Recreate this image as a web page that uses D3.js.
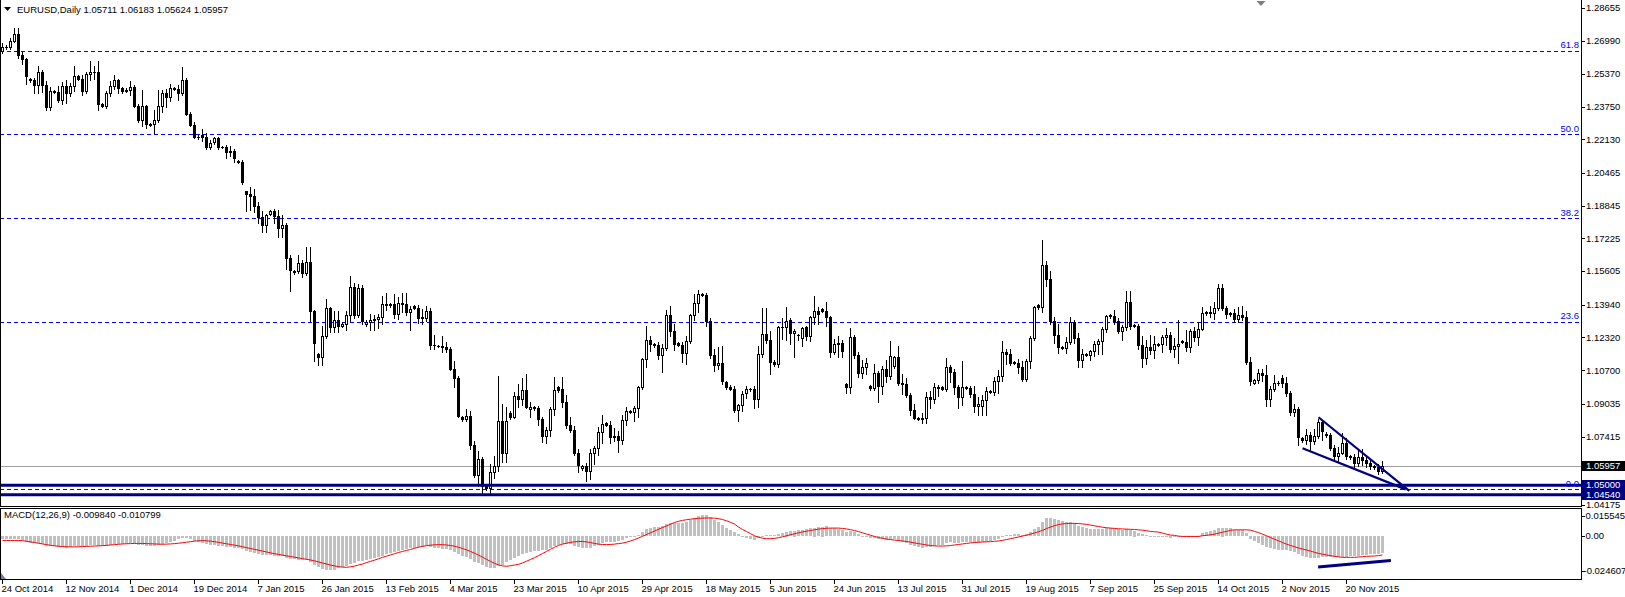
<!DOCTYPE html>
<html><head><meta charset="utf-8">
<script src="https://cdn.jsdelivr.net/npm/d3@7"></script>
<style>
body{margin:0;background:#fff;}
svg{display:block;}
text{font-family:"Liberation Sans",Arial,sans-serif;font-size:9.5px;}
</style>
</head><body>
<svg id="chart" width="1625" height="597"></svg>
<script>
const symbolName = "EURUSD,Daily";
const firstDate = "2014-10-24";
const dateTicks = ["24 Oct 2014","12 Nov 2014","1 Dec 2014","19 Dec 2014","7 Jan 2015","26 Jan 2015","13 Feb 2015","4 Mar 2015","23 Mar 2015","10 Apr 2015","29 Apr 2015","18 May 2015","5 Jun 2015","24 Jun 2015","13 Jul 2015","31 Jul 2015","19 Aug 2015","7 Sep 2015","25 Sep 2015","14 Oct 2015","2 Nov 2015","20 Nov 2015"];
const priceTicks = [1.28655,1.26990,1.25370,1.23750,1.22130,1.20465,1.18845,1.17225,1.15605,1.13940,1.12320,1.10700,1.09035,1.07415,1.04175];
const macdTicks = [0.015545,0.00,-0.024607];

const openP = [
1.2650,1.2668,1.2672,1.2700,1.2735,1.2630,1.2610,1.2510,1.2508,1.2484,
1.2545,1.2480,1.2375,1.2450,1.2445,1.2410,1.2475,1.2440,1.2475,1.2525,
1.2512,1.2450,1.2535,1.2545,1.2548,1.2390,1.2380,1.2440,1.2475,1.2505,
1.2465,1.2450,1.2455,1.2470,1.2380,1.2310,1.2380,1.2285,1.2287,1.2310,
1.2380,1.2440,1.2420,1.2465,1.2462,1.2440,1.2505,1.2340,1.2285,1.2225,
1.2235,1.2225,1.2175,1.2198,1.2220,1.2175,1.2173,1.2150,1.2155,1.2105,
1.2102,1.1955,1.1940,1.1932,1.1885,1.1830,1.1790,1.1845,1.1860,1.1835,
1.1775,1.1790,1.1625,1.1555,1.1562,1.1600,1.1550,1.1605,1.1365,1.1150,
1.1135,1.1240,1.1380,1.1285,1.1320,1.1290,1.1300,1.1345,1.1480,1.1345,
1.1475,1.1300,1.1310,1.1320,1.1325,1.1335,1.1400,1.1395,1.1398,1.1350,
1.1405,1.1400,1.1360,1.1390,1.1380,1.1332,1.1328,1.1365,1.1195,1.1190,
1.1188,1.1185,1.1175,1.1075,1.1030,1.0840,1.0830,1.0845,1.0700,1.0550,
1.0630,1.0495,1.0488,1.0565,1.0595,1.0820,1.0660,1.0860,1.0840,1.0940,
1.0925,1.0970,1.0880,1.0888,1.0882,1.0830,1.0745,1.0775,1.0880,1.0985,
1.0975,1.0915,1.0800,1.0775,1.0660,1.0586,1.0595,1.0570,1.0660,1.0685,
1.0765,1.0810,1.0800,1.0740,1.0742,1.0725,1.0825,1.0868,1.0865,1.0885,
1.0985,1.1125,1.1220,1.1198,1.1195,1.1145,1.1180,1.1345,1.1265,1.1205,
1.1195,1.1155,1.1215,1.1345,1.1405,1.1445,1.1442,1.1315,1.1145,1.1095,
1.1105,1.1010,1.0985,1.0975,1.0875,1.0900,1.0955,1.0975,1.0977,1.0925,
1.1150,1.1250,1.1220,1.1110,1.1100,1.1285,1.1285,1.1320,1.1255,1.1245,
1.1230,1.1285,1.1240,1.1335,1.1365,1.1375,1.1365,1.1335,1.1160,1.1200,
1.1205,1.1000,1.0987,1.1235,1.1145,1.1055,1.1085,1.0990,1.0980,1.1055,
1.0990,1.1075,1.1040,1.1090,1.1135,1.1005,1.1000,1.0945,1.0875,1.0835,
1.0828,1.0832,1.0935,1.0925,1.0985,1.0985,1.0978,1.1085,1.1060,1.0985,
1.0935,1.0985,1.0982,1.0950,1.0895,1.0895,1.0920,1.0965,1.0962,1.1015,
1.1040,1.1160,1.1150,1.1110,1.1105,1.1085,1.1025,1.1115,1.1230,1.1392,
1.1385,1.1590,1.1520,1.1315,1.1245,1.1185,1.1180,1.1210,1.1310,1.1230,
1.1120,1.1150,1.1145,1.1165,1.1200,1.1215,1.1275,1.1345,1.1338,1.1315,
1.1265,1.1285,1.1410,1.1295,1.1290,1.1195,1.1130,1.1185,1.1170,1.1195,
1.1200,1.1235,1.1245,1.1175,1.1190,1.1215,1.1210,1.1185,1.1265,1.1235,
1.1275,1.1355,1.1357,1.1352,1.1380,1.1475,1.1380,1.1350,1.1352,1.1325,
1.1345,1.1335,1.1110,1.1005,1.1020,1.1055,1.1045,1.0925,1.0975,1.1005,
1.1030,1.1005,1.0955,1.0865,1.0880,1.0735,1.0722,1.0750,1.0720,1.0745,
1.0815,1.0755,1.0748,1.0685,1.0645,1.0660,1.0710,1.0645,1.0638,1.0610,
1.0640,1.0625,1.0610,1.0595,1.0590,1.05711];
const highP = [
1.2690,1.2678,1.2713,1.2762,1.2766,1.2645,1.2615,1.2518,1.2515,1.2575,
1.2557,1.2500,1.2470,1.2458,1.2475,1.2495,1.2505,1.2490,1.2578,1.2530,
1.2532,1.2545,1.2600,1.2575,1.2600,1.2395,1.2450,1.2500,1.2530,1.2510,
1.2470,1.2465,1.2500,1.2480,1.2390,1.2455,1.2385,1.2292,1.2360,1.2455,
1.2455,1.2460,1.2485,1.2470,1.2480,1.2570,1.2515,1.2350,1.2300,1.2232,
1.2262,1.2245,1.2210,1.2225,1.2225,1.2180,1.2185,1.2180,1.2165,1.2110,
1.2110,1.1958,1.1975,1.1965,1.1905,1.1860,1.1845,1.1865,1.1870,1.1865,
1.1840,1.1800,1.1640,1.1565,1.1640,1.1615,1.1680,1.1680,1.1370,1.1155,
1.1290,1.1420,1.1385,1.1365,1.1365,1.1310,1.1365,1.1535,1.1500,1.1495,
1.1490,1.1318,1.1350,1.1345,1.1350,1.1435,1.1450,1.1405,1.1445,1.1430,
1.1450,1.1450,1.1390,1.1395,1.1395,1.1375,1.1390,1.1380,1.1245,1.1197,
1.1238,1.1210,1.1185,1.1115,1.1040,1.0845,1.0880,1.0870,1.0720,1.0670,
1.0640,1.0500,1.0605,1.0645,1.1043,1.0905,1.0890,1.0870,1.0960,1.1000,
1.1030,1.1052,1.0915,1.0895,1.0895,1.0840,1.0790,1.0890,1.1035,1.0990,
1.1035,1.0945,1.0840,1.0795,1.0680,1.0600,1.0610,1.0680,1.0695,1.0790,
1.0850,1.0815,1.0820,1.0785,1.0770,1.0850,1.0890,1.0875,1.0895,1.0990,
1.1130,1.1290,1.1240,1.1205,1.1210,1.1200,1.1370,1.1390,1.1300,1.1210,
1.1210,1.1240,1.1350,1.1445,1.1468,1.1450,1.1450,1.1330,1.1175,1.1185,
1.1190,1.1015,1.0995,1.0990,1.0905,1.0965,1.0990,1.0982,1.0990,1.1190,
1.1380,1.1380,1.1265,1.1118,1.1290,1.1330,1.1385,1.1330,1.1275,1.1250,
1.1285,1.1290,1.1340,1.1435,1.1385,1.1380,1.1410,1.1340,1.1225,1.1240,
1.1220,1.1005,1.1278,1.1245,1.1160,1.1120,1.1130,1.0995,1.1100,1.1065,
1.1090,1.1120,1.1215,1.1140,1.1190,1.1050,1.1030,1.0955,1.0905,1.0840,
1.0860,1.0960,1.0965,1.1005,1.0995,1.0990,1.1130,1.1095,1.1075,1.0995,
1.1115,1.0990,1.0990,1.0990,1.0935,1.0945,1.0985,1.0970,1.1035,1.1070,
1.1215,1.1175,1.1175,1.1115,1.1125,1.1115,1.1125,1.1240,1.1390,1.1398,
1.1715,1.1610,1.1560,1.1335,1.1300,1.1190,1.1235,1.1333,1.1320,1.1255,
1.1175,1.1155,1.1170,1.1215,1.1225,1.1285,1.1345,1.1350,1.1370,1.1330,
1.1295,1.1460,1.1460,1.1300,1.1300,1.1240,1.1220,1.1245,1.1240,1.1205,
1.1245,1.1280,1.1260,1.1230,1.1318,1.1220,1.1270,1.1275,1.1285,1.1310,
1.1385,1.1362,1.1390,1.1410,1.1495,1.1495,1.1390,1.1358,1.1375,1.1385,
1.1390,1.1365,1.1135,1.1025,1.1075,1.1075,1.1095,1.0990,1.1045,1.1015,
1.1045,1.1035,1.0965,1.0905,1.0890,1.0740,1.0780,1.0765,1.0780,1.0830,
1.0825,1.0762,1.0760,1.0700,1.0690,1.0760,1.0735,1.0650,1.0655,1.0680,
1.0680,1.0640,1.0628,1.0600,1.0605,1.06183];
const lowP = [
1.2640,1.2660,1.2660,1.2695,1.2615,1.2585,1.2485,1.2498,1.2440,1.2440,
1.2445,1.2357,1.2358,1.2440,1.2400,1.2390,1.2395,1.2425,1.2450,1.2505,
1.2430,1.2440,1.2505,1.2510,1.2360,1.2375,1.2370,1.2425,1.2460,1.2440,
1.2440,1.2445,1.2430,1.2375,1.2300,1.2280,1.2270,1.2280,1.2245,1.2300,
1.2350,1.2375,1.2405,1.2455,1.2410,1.2430,1.2335,1.2280,1.2220,1.2215,
1.2205,1.2165,1.2165,1.2190,1.2165,1.2168,1.2122,1.2130,1.2100,1.2098,
1.1990,1.1860,1.1865,1.1855,1.1800,1.1754,1.1755,1.1840,1.1800,1.1728,
1.1727,1.1570,1.1460,1.1548,1.1550,1.1530,1.1540,1.1315,1.1115,1.1098,
1.1098,1.1230,1.1260,1.1260,1.1260,1.1285,1.1270,1.1315,1.1330,1.1335,
1.1300,1.1290,1.1270,1.1270,1.1280,1.1300,1.1370,1.1385,1.1330,1.1325,
1.1360,1.1345,1.1270,1.1375,1.1305,1.1300,1.1315,1.1175,1.1175,1.1183,
1.1160,1.1160,1.1070,1.0985,1.0838,1.0818,1.0820,1.0680,1.0540,1.0495,
1.0460,1.0475,1.0457,1.0535,1.0570,1.0615,1.0615,1.0830,1.0835,1.0890,
1.0900,1.0885,1.0840,1.0875,1.0800,1.0715,1.0710,1.0745,1.0850,1.0960,
1.0890,1.0785,1.0765,1.0650,1.0565,1.0578,1.0520,1.0530,1.0605,1.0650,
1.0710,1.0795,1.0710,1.0720,1.0665,1.0705,1.0800,1.0858,1.0820,1.0840,
1.0975,1.1085,1.1165,1.1185,1.1125,1.1060,1.1170,1.1240,1.1170,1.1190,
1.1110,1.1100,1.1205,1.1320,1.1360,1.1435,1.1290,1.1130,1.1065,1.1075,
1.1000,1.0975,1.0970,1.0865,1.0820,1.0870,1.0930,1.0968,1.0885,1.0890,
1.1135,1.1205,1.1050,1.1090,1.1085,1.1225,1.1220,1.1200,1.1135,1.1220,
1.1190,1.1220,1.1215,1.1300,1.1300,1.1360,1.1290,1.1135,1.1150,1.1135,
1.1135,1.0955,1.0955,1.1130,1.1035,1.1030,1.1050,1.0970,1.0970,1.0915,
1.0950,1.1010,1.1025,1.1080,1.0995,1.0950,1.0935,1.0850,1.0830,1.0825,
1.0808,1.0808,1.0885,1.0910,1.0940,1.0970,1.0965,1.1010,1.0950,1.0885,
1.0900,1.0975,1.0935,1.0865,1.0850,1.0850,1.0850,1.0955,1.0945,1.0955,
1.1015,1.1100,1.1095,1.1100,1.1055,1.1015,1.1015,1.1080,1.1220,1.1375,
1.1360,1.1485,1.1300,1.1205,1.1155,1.1175,1.1155,1.1200,1.1205,1.1085,
1.1085,1.1140,1.1120,1.1140,1.1150,1.1150,1.1260,1.1330,1.1300,1.1255,
1.1220,1.1270,1.1275,1.1285,1.1175,1.1085,1.1100,1.1150,1.1130,1.1190,
1.1160,1.1195,1.1160,1.1135,1.1105,1.1205,1.1165,1.1160,1.1215,1.1195,
1.1270,1.1345,1.1335,1.1325,1.1370,1.1370,1.1330,1.1340,1.1310,1.1310,
1.1320,1.1100,1.0995,1.1000,1.1005,1.1015,1.0895,1.0895,1.0965,1.0995,
1.0985,1.0940,1.0850,1.0845,1.0700,1.0715,1.0705,1.0675,1.0705,1.0735,
1.0725,1.0740,1.0675,1.0630,1.0615,1.0655,1.0630,1.0630,1.0590,1.0595,
1.0600,1.0590,1.0580,1.0583,1.0557,1.05624];
const closeP = [
1.2668,1.2672,1.2700,1.2735,1.2630,1.2610,1.2525,1.2508,1.2484,1.2545,
1.2480,1.2375,1.2452,1.2445,1.2410,1.2475,1.2440,1.2475,1.2525,1.2512,
1.2450,1.2535,1.2545,1.2548,1.2390,1.2380,1.2440,1.2475,1.2505,1.2465,
1.2450,1.2455,1.2470,1.2380,1.2310,1.2380,1.2290,1.2287,1.2310,1.2380,
1.2440,1.2420,1.2465,1.2462,1.2440,1.2505,1.2340,1.2285,1.2225,1.2222,
1.2225,1.2175,1.2195,1.2220,1.2175,1.2173,1.2150,1.2155,1.2120,1.2102,
1.2000,1.1940,1.1932,1.1885,1.1830,1.1790,1.1840,1.1860,1.1835,1.1775,
1.1790,1.1625,1.1565,1.1562,1.1600,1.1550,1.1605,1.1365,1.1205,1.1135,
1.1240,1.1380,1.1285,1.1320,1.1290,1.1300,1.1345,1.1480,1.1345,1.1475,
1.1315,1.1310,1.1320,1.1325,1.1335,1.1400,1.1395,1.1398,1.1350,1.1405,
1.1400,1.1360,1.1375,1.1380,1.1330,1.1328,1.1365,1.1195,1.1195,1.1188,
1.1185,1.1175,1.1075,1.1030,1.0845,1.0830,1.0845,1.0700,1.0550,1.0630,
1.0495,1.0488,1.0565,1.0595,1.0820,1.0660,1.0820,1.0840,1.0940,1.0925,
1.0970,1.0890,1.0888,1.0882,1.0830,1.0745,1.0775,1.0880,1.0970,1.0970,
1.0915,1.0800,1.0775,1.0660,1.0600,1.0595,1.0570,1.0660,1.0685,1.0765,
1.0805,1.0800,1.0740,1.0742,1.0725,1.0825,1.0870,1.0865,1.0885,1.0985,
1.1125,1.1220,1.1200,1.1195,1.1145,1.1180,1.1345,1.1265,1.1200,1.1195,
1.1155,1.1215,1.1345,1.1405,1.1445,1.1442,1.1315,1.1145,1.1095,1.1105,
1.1015,1.0985,1.0977,1.0875,1.0900,1.0950,1.0975,1.0977,1.0925,1.1150,
1.1250,1.1220,1.1110,1.1100,1.1285,1.1285,1.1315,1.1255,1.1265,1.1245,
1.1280,1.1240,1.1335,1.1365,1.1350,1.1365,1.1335,1.1160,1.1200,1.1205,
1.1165,1.0987,1.1235,1.1145,1.1055,1.1085,1.1105,1.0980,1.1055,1.0990,
1.1075,1.1040,1.1140,1.1135,1.1005,1.1000,1.0945,1.0875,1.0835,1.0830,
1.0832,1.0935,1.0925,1.0985,1.0980,1.0978,1.1085,1.1060,1.0985,1.0935,
1.0985,1.0982,1.0950,1.0895,1.0905,1.0920,1.0965,1.0962,1.1015,1.1040,
1.1160,1.1150,1.1105,1.1105,1.1085,1.1025,1.1115,1.1230,1.1385,1.1385,
1.1590,1.1520,1.1315,1.1245,1.1185,1.1180,1.1210,1.1310,1.1230,1.1120,
1.1150,1.1145,1.1165,1.1200,1.1215,1.1275,1.1340,1.1338,1.1315,1.1265,
1.1285,1.1410,1.1290,1.1290,1.1195,1.1130,1.1185,1.1170,1.1200,1.1200,
1.1235,1.1245,1.1175,1.1190,1.1200,1.1210,1.1185,1.1265,1.1235,1.1275,
1.1355,1.1357,1.1352,1.1380,1.1475,1.1380,1.1350,1.1352,1.1325,1.1345,
1.1335,1.1110,1.1015,1.1020,1.1055,1.1045,1.0925,1.0975,1.1005,1.1008,
1.1005,1.0955,1.0865,1.0880,1.0740,1.0722,1.0750,1.0720,1.0745,1.0815,
1.0770,1.0748,1.0685,1.0645,1.0660,1.0710,1.0645,1.0638,1.0610,1.0640,
1.0625,1.0610,1.0595,1.0590,1.0571,1.05957];

const macdMain = [
-0.0020,-0.0020,-0.0019,-0.0016,-0.0019,-0.0025,-0.0033,-0.0038,-0.0043,-0.0042,
-0.0047,-0.0056,-0.0058,-0.0060,-0.0064,-0.0064,-0.0066,-0.0064,-0.0058,-0.0057,
-0.0060,-0.0055,-0.0051,-0.0049,-0.0057,-0.0060,-0.0057,-0.0053,-0.0048,-0.0046,
-0.0045,-0.0044,-0.0042,-0.0045,-0.0052,-0.0052,-0.0056,-0.0057,-0.0056,-0.0052,
-0.0045,-0.0040,-0.0034,-0.0028,-0.0020,-0.0010,-0.0012,-0.0020,-0.0028,-0.0035,
-0.0040,-0.0047,-0.0050,-0.0053,-0.0056,-0.0058,-0.0061,-0.0064,-0.0067,-0.0069,
-0.0076,-0.0084,-0.0090,-0.0096,-0.0102,-0.0107,-0.0110,-0.0111,-0.0112,-0.0115,
-0.0117,-0.0125,-0.0133,-0.0134,-0.0136,-0.0138,-0.0137,-0.0150,-0.0165,-0.0178,
-0.0190,-0.0196,-0.0197,-0.0195,-0.0186,-0.0180,-0.0172,-0.0160,-0.0155,-0.0145,
-0.0143,-0.0138,-0.0132,-0.0126,-0.0120,-0.0112,-0.0104,-0.0098,-0.0093,-0.0086,
-0.0080,-0.0075,-0.0070,-0.0066,-0.0064,-0.0062,-0.0058,-0.0064,-0.0068,-0.0071,
-0.0073,-0.0075,-0.0082,-0.0090,-0.0104,-0.0113,-0.0118,-0.0132,-0.0149,-0.0153,
-0.0166,-0.0178,-0.0186,-0.0186,-0.0170,-0.0166,-0.0150,-0.0140,-0.0126,-0.0115,
-0.0104,-0.0098,-0.0092,-0.0088,-0.0084,-0.0082,-0.0080,-0.0070,-0.0058,-0.0050,
-0.0045,-0.0046,-0.0048,-0.0055,-0.0062,-0.0066,-0.0070,-0.0066,-0.0060,-0.0052,
-0.0043,-0.0037,-0.0034,-0.0032,-0.0029,-0.0022,-0.0014,-0.0008,-0.0003,0.0008,
0.0022,0.0038,0.0046,0.0050,0.0053,0.0057,0.0070,0.0075,0.0076,0.0076,
0.0077,0.0082,0.0093,0.0105,0.0115,0.0119,0.0120,0.0108,0.0094,0.0080,
0.0062,0.0048,0.0036,0.0025,0.0012,-0.0002,-0.0010,-0.0016,-0.0022,-0.0012,
0.0002,0.0008,0.0006,0.0005,0.0014,0.0020,0.0026,0.0030,0.0032,0.0033,
0.0037,0.0038,0.0044,0.0049,0.0051,0.0055,0.0056,0.0048,0.0044,0.0040,
0.0035,0.0025,0.0030,0.0022,0.0010,0.0003,-0.0002,-0.0012,-0.0014,-0.0018,
-0.0020,-0.0024,-0.0020,-0.0018,-0.0026,-0.0033,-0.0042,-0.0052,-0.0060,-0.0064,
-0.0068,-0.0064,-0.0063,-0.0057,-0.0053,-0.0050,-0.0040,-0.0036,-0.0038,-0.0040,
-0.0035,-0.0033,-0.0034,-0.0038,-0.0038,-0.0036,-0.0032,-0.0029,-0.0022,-0.0016,
-0.0004,0.0004,0.0008,0.0010,0.0010,0.0007,0.0012,0.0024,0.0042,0.0050,
0.0080,0.0104,0.0106,0.0100,0.0092,0.0086,0.0082,0.0082,0.0074,0.0060,
0.0052,0.0046,0.0042,0.0040,0.0038,0.0040,0.0044,0.0045,0.0043,0.0038,
0.0036,0.0042,0.0036,0.0032,0.0020,0.0012,0.0006,0.0002,-0.0002,-0.0003,
-0.0004,-0.0006,-0.0010,-0.0006,-0.0006,-0.0006,-0.0007,-0.0003,-0.0001,0.0000,
0.0015,0.0021,0.0027,0.0034,0.0044,0.0049,0.0046,0.0044,0.0036,0.0036,
0.0036,0.0017,-0.0015,-0.0030,-0.0042,-0.0049,-0.0065,-0.0070,-0.0076,-0.0080,
-0.0080,-0.0080,-0.0087,-0.0093,-0.0103,-0.0112,-0.0122,-0.0127,-0.0125,-0.0125,
-0.0118,-0.0122,-0.0120,-0.0120,-0.0121,-0.0120,-0.0118,-0.0116,-0.0114,-0.0112,
-0.0110,-0.0108,-0.0106,-0.0104,-0.0101,-0.009840];
const macdSignal = [
-0.0025,-0.0025,-0.0025,-0.0025,-0.0025,-0.0026,-0.0030,-0.0033,-0.0037,-0.0041,
-0.0045,-0.0049,-0.0053,-0.0056,-0.0058,-0.0060,-0.0061,-0.0062,-0.0062,-0.0061,
-0.0060,-0.0059,-0.0058,-0.0057,-0.0056,-0.0055,-0.0053,-0.0051,-0.0049,-0.0047,
-0.0045,-0.0044,-0.0043,-0.0042,-0.0042,-0.0042,-0.0043,-0.0044,-0.0045,-0.0046,
-0.0047,-0.0046,-0.0045,-0.0043,-0.0041,-0.0038,-0.0035,-0.0032,-0.0029,-0.0027,
-0.0026,-0.0027,-0.0029,-0.0032,-0.0036,-0.0040,-0.0044,-0.0048,-0.0052,-0.0056,
-0.0061,-0.0066,-0.0071,-0.0076,-0.0081,-0.0086,-0.0091,-0.0096,-0.0101,-0.0105,
-0.0109,-0.0113,-0.0117,-0.0121,-0.0125,-0.0129,-0.0133,-0.0137,-0.0142,-0.0148,
-0.0154,-0.0160,-0.0166,-0.0171,-0.0175,-0.0178,-0.0179,-0.0176,-0.0172,-0.0166,
-0.0160,-0.0152,-0.0145,-0.0138,-0.0130,-0.0122,-0.0115,-0.0108,-0.0101,-0.0094,
-0.0088,-0.0082,-0.0077,-0.0070,-0.0064,-0.0059,-0.0055,-0.0052,-0.0050,-0.0049,
-0.0049,-0.0051,-0.0054,-0.0058,-0.0064,-0.0071,-0.0079,-0.0088,-0.0098,-0.0109,
-0.0121,-0.0133,-0.0145,-0.0156,-0.0165,-0.0171,-0.0173,-0.0170,-0.0166,-0.0162,
-0.0154,-0.0144,-0.0134,-0.0124,-0.0112,-0.0100,-0.0088,-0.0076,-0.0064,-0.0054,
-0.0046,-0.0041,-0.0036,-0.0033,-0.0031,-0.0031,-0.0033,-0.0037,-0.0042,-0.0046,
-0.0048,-0.0049,-0.0048,-0.0046,-0.0043,-0.0040,-0.0035,-0.0028,-0.0020,-0.0011,
-0.0001,0.0009,0.0019,0.0029,0.0039,0.0049,0.0058,0.0068,0.0078,0.0085,
0.0090,0.0094,0.0097,0.0100,0.0102,0.0103,0.0104,0.0104,0.0103,0.0100,
0.0095,0.0088,0.0079,0.0069,0.0052,0.0038,0.0026,0.0014,0.0002,-0.0006,
-0.0012,-0.0015,-0.0015,-0.0013,-0.0009,-0.0004,0.0002,0.0008,0.0013,0.0019,
0.0024,0.0028,0.0032,0.0036,0.0040,0.0043,0.0045,0.0046,0.0046,0.0046,
0.0044,0.0041,0.0037,0.0032,0.0026,0.0019,0.0012,0.0005,-0.0002,-0.0008,
-0.0013,-0.0017,-0.0020,-0.0023,-0.0025,-0.0028,-0.0031,-0.0035,-0.0039,-0.0043,
-0.0047,-0.0051,-0.0054,-0.0056,-0.0057,-0.0057,-0.0056,-0.0054,-0.0051,-0.0048,
-0.0045,-0.0042,-0.0039,-0.0037,-0.0035,-0.0034,-0.0033,-0.0032,-0.0030,-0.0028,
-0.0024,-0.0020,-0.0015,-0.0010,-0.0005,0.0000,0.0005,0.0011,0.0018,0.0025,
0.0033,0.0043,0.0052,0.0060,0.0066,0.0070,0.0072,0.0073,0.0073,0.0072,
0.0070,0.0067,0.0063,0.0059,0.0055,0.0051,0.0048,0.0046,0.0044,0.0042,
0.0041,0.0040,0.0039,0.0038,0.0036,0.0034,0.0031,0.0027,0.0025,0.0023,
0.0017,0.0011,0.0006,0.0004,0.0000,-0.0002,-0.0002,-0.0002,-0.0002,-0.0002,
0.0002,0.0004,0.0008,0.0011,0.0017,0.0022,0.0027,0.0033,0.0036,0.0036,
0.0036,0.0036,0.0034,0.0027,0.0020,0.0011,0.0002,-0.0008,-0.0018,-0.0027,
-0.0037,-0.0046,-0.0054,-0.0061,-0.0068,-0.0074,-0.0080,-0.0086,-0.0093,-0.0099,
-0.0104,-0.0108,-0.0112,-0.0116,-0.0119,-0.0122,-0.0122,-0.0122,-0.0122,-0.0120,
-0.0118,-0.0116,-0.0115,-0.0114,-0.0112,-0.010799];

const fibLevels = [1.0480,1.1309,1.1822,1.2237,1.2651];
const fibNames  = ["0.0","23.6","38.2","50.0","61.8"];
const bidPrice = 1.05957;
const hLines = [1.05000,1.04540];
const wedgeUpper = [[329,1.0837],[351.7,1.0473]];
const wedgeLower = [[325,1.0684],[350.8,1.0480]];
const macdTrend  = [[328.9,-0.01772],[347.1,-0.01405]];

const N = closeP.length;
const svg = d3.select("#chart");

// bar dates (daily bars incl. Sunday sessions, no Saturdays)
const fmt = d3.utcFormat("%-d %b %Y");
const barDates = [];
{ let t = Date.parse(firstDate + "T00:00:00Z");
  while (barDates.length < N) { const d = new Date(t); if (d.getUTCDay() !== 6) barDates.push(fmt(d)); t += 86400000; } }

const x = d3.scaleLinear().domain([0,1]).range([2.5,6.5]);
const y = d3.scaleLinear().domain([1.04175,1.28655]).range([502,7.5]);
const ym = d3.scaleLinear().domain([-0.024607,0.015545]).range([579,509]);

const AX = 1581.5;
const defs = svg.append("defs");
defs.append("clipPath").attr("id","mainClip").append("rect").attr("x",1).attr("y",0).attr("width",AX-1).attr("height",506);
defs.append("clipPath").attr("id","macdClip").append("rect").attr("x",1).attr("y",509).attr("width",AX-1).attr("height",70);

const gMain = svg.append("g").attr("clip-path","url(#mainClip)");

// fib dashed lines
gMain.selectAll(".fib").data(fibLevels).join("line")
  .attr("x1",0).attr("x2",AX).attr("y1",d=>Math.round(y(d))+0.5).attr("y2",d=>Math.round(y(d))+0.5)
  .attr("stroke","#0000ff").attr("stroke-width",1).attr("stroke-dasharray","4,3");

// bid line
gMain.append("line").attr("x1",0).attr("x2",AX)
  .attr("y1",Math.round(y(bidPrice))+0.5).attr("y2",Math.round(y(bidPrice))+0.5)
  .attr("stroke","#a0a0a0").attr("stroke-width",1);

// candles
const gC = gMain.append("g").attr("shape-rendering","crispEdges");
const idx = d3.range(N);
gC.selectAll(".wick").data(idx).join("rect")
  .attr("x",i=>x(i)-0.5).attr("y",i=>Math.round(y(highP[i])))
  .attr("width",1).attr("height",i=>Math.round(y(lowP[i]))-Math.round(y(highP[i]))+1)
  .attr("fill","#000");
gC.selectAll(".body").data(idx).join("rect")
  .attr("x",i=>x(i)-1.5)
  .attr("y",i=>Math.min(Math.round(y(openP[i])),Math.round(y(closeP[i]))))
  .attr("width",3)
  .attr("height",i=>Math.abs(Math.round(y(openP[i]))-Math.round(y(closeP[i])))+1)
  .attr("fill","#000");
gC.selectAll(".hollow").data(idx.filter(i=>closeP[i]>openP[i] && Math.round(y(openP[i]))-Math.round(y(closeP[i]))>=2)).join("rect")
  .attr("x",i=>x(i)-0.5).attr("y",i=>Math.round(y(closeP[i]))+1)
  .attr("width",1).attr("height",i=>Math.round(y(openP[i]))-Math.round(y(closeP[i]))-1)
  .attr("fill","#fff");

// navy horizontal lines
gMain.selectAll(".hl").data(hLines).join("line")
  .attr("x1",0).attr("x2",AX).attr("y1",d=>y(d)).attr("y2",d=>y(d))
  .attr("stroke","#000080").attr("stroke-width",3);

// wedge lines
[wedgeUpper,wedgeLower].forEach(seg=>{
  gMain.append("line").attr("x1",x(seg[0][0])).attr("y1",y(seg[0][1]))
    .attr("x2",x(seg[1][0])).attr("y2",y(seg[1][1]))
    .attr("stroke","#000080").attr("stroke-width",2.2);
});

// fib labels
svg.selectAll(".fibl").data(fibLevels).join("text")
  .attr("x",1579).attr("y",d=>y(d)-2.5).attr("text-anchor","end")
  .attr("fill","#0000ff").text((d,i)=>fibNames[i]);

// chart shift marker
svg.append("path").attr("d","M1256.5,1 L1265.5,1 L1261,6 Z").attr("fill","#7f7f7f");

// header
svg.append("path").attr("d","M4,7 L11,7 L7.5,11 Z").attr("fill","#000");
svg.append("text").attr("x",17).attr("y",10).attr("dy","0.35em")
  .text(symbolName + "  " + [openP[N-1],highP[N-1],lowP[N-1],closeP[N-1]].map(v=>v.toFixed(5)).join(" "));

// MACD panel
const gM = svg.append("g").attr("clip-path","url(#macdClip)");
gM.append("g").attr("shape-rendering","crispEdges").selectAll("rect").data(idx).join("rect")
  .attr("x",i=>x(i)-1.5).attr("width",3)
  .attr("y",i=>Math.round(Math.min(ym(0),ym(macdMain[i]))))
  .attr("height",i=>Math.max(1,Math.round(Math.abs(ym(macdMain[i])-ym(0)))))
  .attr("fill","#c0c0c0");
gM.append("path").datum(idx).attr("fill","none").attr("stroke","#ff0000").attr("stroke-width",1)
  .attr("d",d3.line().x(i=>x(i)).y(i=>ym(macdSignal[i])));
gM.append("line").attr("x1",x(macdTrend[0][0])).attr("y1",ym(macdTrend[0][1]))
  .attr("x2",x(macdTrend[1][0])).attr("y2",ym(macdTrend[1][1]))
  .attr("stroke","#000080").attr("stroke-width",3);
svg.append("path").attr("d","M1,573 L1,579 L6,579 Z").attr("fill","#708090");
svg.append("text").attr("x",4).attr("y",515).attr("dy","0.35em")
  .text("MACD(12,26,9) " + macdMain[N-1].toFixed(6) + " " + macdSignal[N-1].toFixed(6));

// frames
const frame = svg.append("g").attr("shape-rendering","crispEdges").attr("stroke","#000").attr("fill","none");
frame.append("line").attr("x1",0.5).attr("x2",0.5).attr("y1",0).attr("y2",507);
frame.append("line").attr("x1",AX).attr("x2",AX).attr("y1",0).attr("y2",507);
frame.append("line").attr("x1",0).attr("x2",AX).attr("y1",506.5).attr("y2",506.5);
frame.append("rect").attr("x",0.5).attr("y",508.5).attr("width",AX-0.5).attr("height",71);

// price axis (lowest label sits just under the value boxes)
const labelY = d => d === priceTicks[priceTicks.length-1] ? y(d)+2.5 : y(d);
const gA = svg.append("g");
gA.selectAll("line").data(priceTicks).join("line")
  .attr("x1",AX).attr("x2",AX+3).attr("y1",d=>Math.round(labelY(d))+0.5).attr("y2",d=>Math.round(labelY(d))+0.5)
  .attr("stroke","#000").attr("shape-rendering","crispEdges");
gA.selectAll("text").data(priceTicks).join("text")
  .attr("x",1586).attr("y",labelY).attr("dy","0.35em").text(d=>d.toFixed(5));

// value boxes
function valueBox(v, fill){
  const yy = Math.round(y(v));
  svg.append("rect").attr("x",1582).attr("y",yy-5).attr("width",43).attr("height",10).attr("fill",fill);
  svg.append("text").attr("x",1586).attr("y",yy).attr("dy","0.35em").attr("fill","#fff").text(v.toFixed(5));
}
valueBox(bidPrice,"#000");
hLines.forEach(v=>valueBox(v,"#000080"));

// macd axis
const macdLabelY = [ym(macdTicks[0])+7, ym(macdTicks[1]), ym(macdTicks[2])-8.5];
svg.selectAll(".mt").data(macdTicks).join("line")
  .attr("x1",AX).attr("x2",AX+3).attr("y1",(d,i)=>Math.round(macdLabelY[i])+0.5).attr("y2",(d,i)=>Math.round(macdLabelY[i])+0.5)
  .attr("stroke","#000").attr("shape-rendering","crispEdges");
svg.selectAll(".ml").data(macdTicks).join("text")
  .attr("x",(d,i)=>i===2?1583.5:1585.5).attr("y",(d,i)=>macdLabelY[i]).attr("dy","0.35em")
  .text((d,i)=>i===1?"0.00":d.toFixed(6));

// date axis
const tickIdx = dateTicks.map(s=>barDates.indexOf(s));
svg.selectAll(".dt").data(tickIdx).join("line")
  .attr("x1",i=>x(i)).attr("x2",i=>x(i)).attr("y1",580).attr("y2",584)
  .attr("stroke","#000").attr("shape-rendering","crispEdges");
svg.selectAll(".dl").data(tickIdx).join("text")
  .attr("x",i=>x(i)-1).attr("y",589).attr("dy","0.35em").text((i,k)=>dateTicks[k]);
</script>
</body></html>
